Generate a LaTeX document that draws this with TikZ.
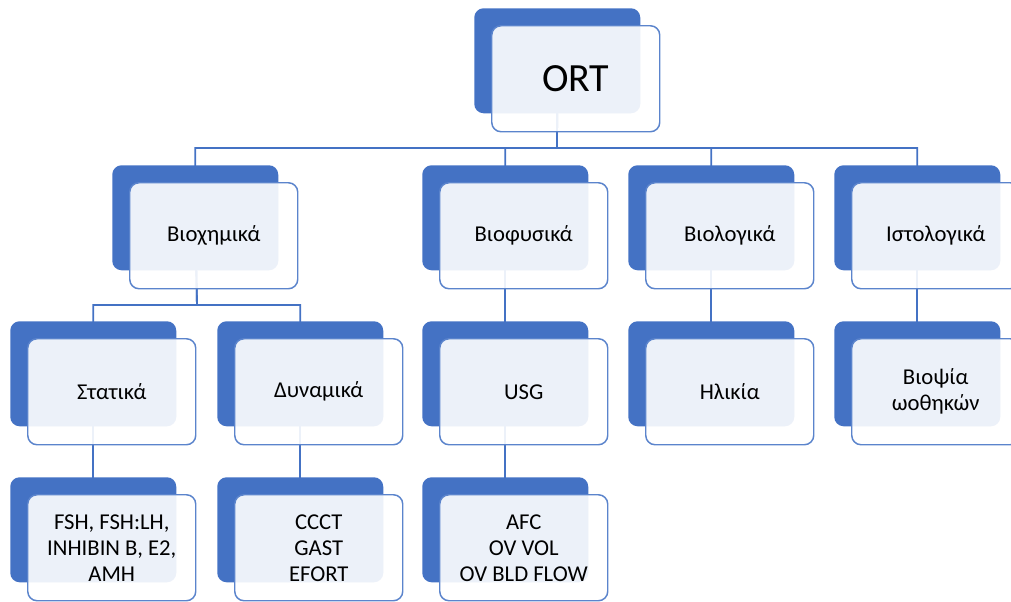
\documentclass[tikz,border=0pt]{standalone}
\usepackage{fontspec}
\setmainfont{Carlito}
\definecolor{ortblue}{HTML}{4472C4}
\definecolor{ortline}{HTML}{5B84CC}
\pgfdeclarelayer{bg}
\pgfsetlayers{bg,main}
\tikzset{
  darkbox/.style={fill=ortblue, rounded corners=7pt, minimum width=124.5pt, minimum height=78.75pt, anchor=north west, inner sep=0pt},
  lightbox/.style={draw=ortline, line width=1.1pt, fill=white, fill opacity=0.9, text opacity=1, rounded corners=7pt,
    minimum width=126pt, minimum height=79.5pt, anchor=north west, align=center, inner sep=2pt,
    font=\fontsize{17}{19.5}\selectfont},
  conn/.style={draw=ortblue, line width=1.4pt}
}
\begin{document}
\begin{tikzpicture}[x=0.75pt,y=-0.75pt]
\useasboundingbox (0,0) rectangle (1011,601);

% Macro for one box: name, x, y, text
\newcommand{\ortbox}[4]{
    \node[darkbox] (#1d) at (#2,#3) {};
    \node[lightbox] (#1) at (#2+17,#3+17) {#4};
}

% Top
\ortbox{ort}{474}{8}{\fontsize{30}{34}\selectfont ORT}

% Second row
\ortbox{bioch}{112}{165}{Βιοχημικά}
\ortbox{bioph}{422}{165}{Βιοφυσικά}
\ortbox{biol}{628}{165}{Βιολογικά}
\ortbox{hist}{834}{165}{Ιστολογικά}

% Third row
\ortbox{stat}{10}{321}{Στατικά}
\ortbox{dyn}{217}{321}{Δυναμικά}
\ortbox{usg}{422}{321}{USG}
\ortbox{age}{628}{321}{Ηλικία}
\ortbox{biopsy}{834}{321}{Βιοψία\\ωοθηκών}

% Fourth row
\ortbox{horm}{10}{477}{FSH, FSH:LH,\\INHIBIN B, E2,\\AMH}
\ortbox{ccct}{217}{477}{CCCT\\GAST\\EFORT}
\ortbox{afc}{422}{477}{AFC\\OV VOL\\OV BLD FLOW}

% Connectors
\begin{pgfonlayer}{bg}
\coordinate (busA) at (557,148);
\coordinate (busB) at (197,305);
\foreach \c in {bioch,bioph,biol,hist}
    \draw[conn] (ortd.center) -- (busA) -| (\c d.center);
\foreach \c in {stat,dyn}
    \draw[conn] (biochd.center) -- (busB) -| (\c d.center);
\draw[conn] (biophd.center) -- (usgd.center);
\draw[conn] (biold.center) -- (aged.center);
\draw[conn] (histd.center) -- (biopsyd.center);
\draw[conn] (statd.center) -- (hormd.center);
\draw[conn] (dynd.center) -- (ccctd.center);
\draw[conn] (usgd.center) -- (afcd.center);
\end{pgfonlayer}

\end{tikzpicture}
\end{document}
